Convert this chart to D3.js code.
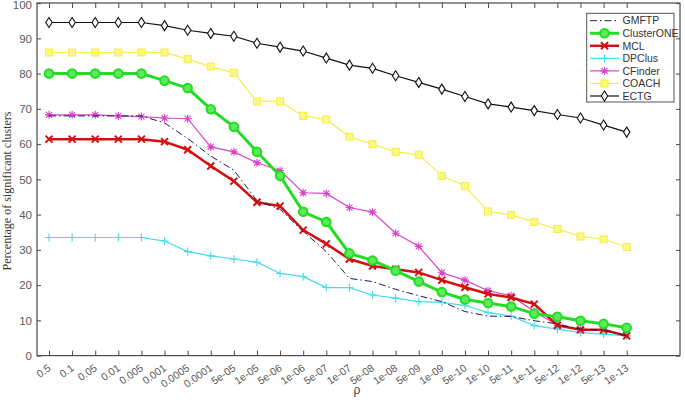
<!DOCTYPE html>
<html>
<head>
<meta charset="utf-8">
<script src="https://cdn.jsdelivr.net/npm/d3@7"></script>
<style>
  body { margin: 0; background: #fff; }
  svg { display: block; }
  .tick text { font-family: "Liberation Sans", Arial, sans-serif; font-size: 11.5px; fill: #5a5a5a; }
  .xaxis .tick text { font-size: 10.5px; }
  .tick line { stroke: #4a4a4a; }
</style>
</head>
<body>
<script>
// x categories (rho)
const rhoLabels = ["0.5", "0.1", "0.05", "0.01", "0.005", "0.001", "0.0005", "0.0001", "5e-05", "1e-05",
    "5e-06", "1e-06", "5e-07", "1e-07", "5e-08", "1e-08", "5e-09", "1e-09", "5e-10", "1e-10",
    "5e-11", "1e-11", "5e-12", "1e-12", "5e-13", "1e-13"];
const yTicks = [0, 10, 20, 30, 40, 50, 60, 70, 80, 90, 100];

// series values
const gmftp = [68, 68, 68, 68, 68, 66, 61.6, 56.6, 52.6, 44, 41.5, 35.2, 29.5, 21.9, 21, 18.8, 17, 15.3, 12.5, 11.2, 11.1, 9.9, 9, 7.5, 7.2, 5.6];
const clusterOne = [80, 80, 80, 80, 80, 78, 75.9, 69.9, 64.9, 57.8, 51, 40.8, 37.9, 29, 27, 24.1, 21, 18, 15.9, 14.9, 13.9, 11.9, 11, 9.9, 9, 7.9];
const mcl = [61.4, 61.4, 61.4, 61.4, 61.4, 60.7, 58.4, 53.8, 49.5, 43.5, 42.4, 35.6, 31.7, 27.4, 25.4, 24.5, 23.6, 21.4, 19.4, 17.5, 16.5, 14.6, 8.6, 7.3, 7.3, 5.6];
const dpclus = [33.5, 33.5, 33.5, 33.5, 33.5, 32.5, 29.5, 28.3, 27.4, 26.5, 23.3, 22.4, 19.3, 19.3, 17.2, 16.3, 15.3, 15.1, 14.2, 12.2, 11.2, 8.5, 7.5, 6.5, 6.1, 5.6];
const cfinder = [68.3, 68.3, 68.3, 68, 67.8, 67.4, 67.2, 59.2, 57.8, 54.7, 52.5, 46.2, 46, 42, 40.7, 34.7, 31, 23.5, 21.4, 18.4, 17, 12.5, 8.6, 7.5, 7.1, 5.6];
const coach = [86, 86, 86, 86, 86, 86, 84.1, 82, 80.2, 72.1, 72.1, 68, 67, 62.1, 60, 57.8, 57, 51, 48.1, 40.9, 39.9, 37.9, 35.9, 33.8, 33, 30.8];
const ectg = [94.5, 94.5, 94.5, 94.5, 94.5, 93.6, 92.3, 91.4, 90.6, 88.6, 87.5, 86.4, 84.4, 82.4, 81.5, 79.4, 77.5, 75.6, 73.5, 71.4, 70.5, 69.5, 68.4, 67.4, 65.4, 63.4];

const series = [
    { name: "GMFTP", values: gmftp, color: "#1c1c5a", width: 1, dash: "7,3,1.5,3", marker: null },
    { name: "ClusterONE", values: clusterOne, color: "#22dd22", width: 3, marker: "circle" },
    { name: "MCL", values: mcl, color: "#d40f0f", width: 2.5, marker: "x" },
    { name: "DPClus", values: dpclus, color: "#45dcee", width: 1.2, marker: "plus" },
    { name: "CFinder", values: cfinder, color: "#d844c8", width: 1.2, marker: "star" },
    { name: "COACH", values: coach, color: "#f4ef4a", width: 1.2, marker: "square" },
    { name: "ECTG", values: ectg, color: "#111111", width: 1.2, marker: "diamond" }
];

const W = 685, H = 403;
const frame = { left: 37, right: 680, top: 3, bottom: 355.6 };

const svg = d3.select("body").append("svg")
    .attr("width", W)
    .attr("height", H);

const x = d3.scaleLinear()
    .domain([0, rhoLabels.length - 1])
    .range([49, 626.7]);

const y = d3.scaleLinear()
    .domain([0, 100])
    .range([frame.bottom, 3.1]);

const idx = d3.range(rhoLabels.length);

// bottom axis, ticks inward
const xAxis = svg.append("g")
    .attr("class", "xaxis")
    .attr("transform", "translate(0," + frame.bottom + ")")
    .call(d3.axisBottom(x).tickValues(idx).tickFormat(i => rhoLabels[i]).tickSize(-5));
xAxis.select(".domain").remove();
xAxis.selectAll("text")
    .attr("y", 0)
    .attr("dy", "0.35em")
    .attr("text-anchor", "end")
    .attr("transform", "translate(0,11) rotate(-35)");

// top ticks
const xTop = svg.append("g")
    .attr("transform", "translate(0," + frame.top + ")")
    .call(d3.axisTop(x).tickValues(idx).tickFormat("").tickSize(-5));
xTop.select(".domain").remove();

// left axis
const yAxis = svg.append("g")
    .attr("transform", "translate(" + frame.left + ",0)")
    .call(d3.axisLeft(y).tickValues(yTicks).tickSize(-4).tickPadding(5));
yAxis.select(".domain").remove();
// keep the top label inside the page
yAxis.selectAll("text").filter(d => d === 100).attr("dy", "0.5em");

// right ticks
const yRight = svg.append("g")
    .attr("transform", "translate(" + frame.right + ",0)")
    .call(d3.axisRight(y).tickValues(yTicks).tickFormat("").tickSize(-4));
yRight.select(".domain").remove();

// frame
svg.append("rect")
    .attr("x", frame.left)
    .attr("y", frame.top)
    .attr("width", frame.right - frame.left)
    .attr("height", frame.bottom - frame.top)
    .attr("fill", "none")
    .attr("stroke", "#4a4a4a")
    .attr("stroke-width", 1.2);

// marker shapes
function markerPath(type) {
    switch (type) {
        case "x": return "M-3.5,-3.5L3.5,3.5M-3.5,3.5L3.5,-3.5";
        case "plus": return "M-4,0H4M0,-4V4";
        case "star": return "M-4,0H4M0,-4V4M-3,-3L3,3M-3,3L3,-3";
        case "square": return "M-3.5,-3.5H3.5V3.5H-3.5Z";
        case "diamond": return "M0,-5L3.2,0L0,5L-3.2,0Z";
    }
    return "";
}

function drawMarker(g, type, color, cx, cy) {
    if (type === "circle") {
        g.append("circle")
            .attr("cx", cx).attr("cy", cy).attr("r", 4.3)
            .attr("fill", "#5ee85e").attr("stroke", color).attr("stroke-width", 2);
    } else if (type) {
        const fill = type === "square" ? "#fbf88a" : (type === "diamond" ? "#fff" : "none");
        g.append("path")
            .attr("d", markerPath(type))
            .attr("transform", "translate(" + cx + "," + cy + ")")
            .attr("fill", fill)
            .attr("stroke", color)
            .attr("stroke-width", type === "x" ? 2 : 1.1);
    }
}

const line = d3.line()
    .x((d, i) => x(i))
    .y(d => y(d));

// draw in reverse so GMFTP/ClusterONE end up on top like the original
const plot = svg.append("g");
series.slice().reverse().forEach(s => {
    const g = plot.append("g");
    g.append("path")
        .datum(s.values)
        .attr("fill", "none")
        .attr("stroke", s.color)
        .attr("stroke-width", s.width)
        .attr("stroke-dasharray", s.dash || null)
        .attr("d", line);
    s.values.forEach((v, i) => drawMarker(g, s.marker, s.color, x(i), y(v)));
});

// axis labels
svg.append("text")
    .attr("x", 357)
    .attr("y", 394)
    .attr("text-anchor", "middle")
    .style("font-family", "Liberation Sans, Arial, sans-serif")
    .style("font-size", "12px")
    .style("fill", "#444")
    .text("ρ");

svg.append("text")
    .attr("transform", "translate(11,191) rotate(-90)")
    .attr("text-anchor", "middle")
    .style("font-family", "Liberation Serif, Times New Roman, serif")
    .style("font-size", "12px")
    .style("fill", "#333")
    .text("Percentage of significant clusters");

// legend
const legend = svg.append("g");
legend.append("rect")
    .attr("x", 586.7)
    .attr("y", 13.3)
    .attr("width", 87.3)
    .attr("height", 88.7)
    .attr("fill", "#fff")
    .attr("stroke", "#555")
    .attr("stroke-width", 1);

series.forEach((s, i) => {
    const ly = 20.7 + i * 12.55;
    const g = legend.append("g");
    g.append("line")
        .attr("x1", 590).attr("x2", 619)
        .attr("y1", ly).attr("y2", ly)
        .attr("stroke", s.color)
        .attr("stroke-width", s.width)
        .attr("stroke-dasharray", s.dash || null);
    drawMarker(g, s.marker, s.color, 604.5, ly);
    g.append("text")
        .attr("x", 622.5)
        .attr("y", ly)
        .attr("dy", "0.36em")
        .style("font-family", "Liberation Sans, Arial, sans-serif")
        .style("font-size", "10.5px")
        .style("fill", "#333")
        .text(s.name);
});
</script>
</body>
</html>
